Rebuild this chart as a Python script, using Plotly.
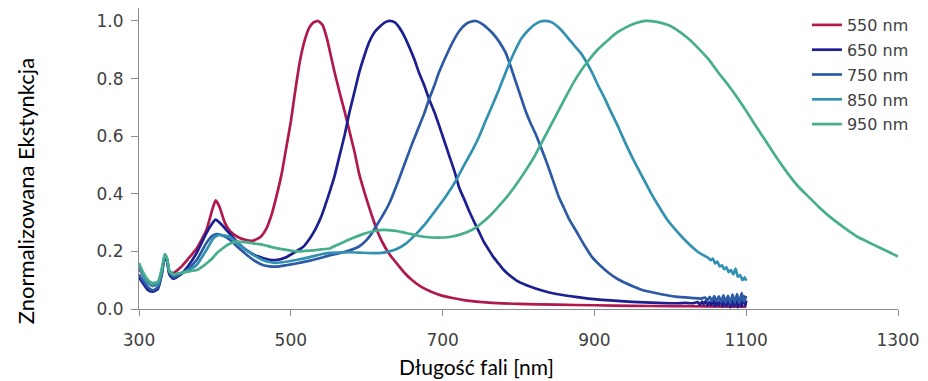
import plotly.graph_objects as go

# ---------------- data ----------------
series_names = ["550 nm", "650 nm", "750 nm", "850 nm", "950 nm"]

wl_550 = [300, 305, 312, 318, 325, 330, 334, 337, 340, 345, 355, 365, 376, 389, 396, 401, 406, 413, 420, 430,
          440, 450, 460, 468, 475, 481, 488, 494, 500, 506, 512, 518, 524, 530, 536, 542, 548, 551, 557, 564,
          571, 577, 584, 590, 600, 608, 614, 621, 630, 639, 650, 660, 672, 685, 696, 713, 730, 761, 800, 850,
          900, 950, 1000, 1050, 1100]
ext_550 = [0.14, 0.12, 0.09, 0.08, 0.09, 0.13, 0.185, 0.17, 0.13, 0.125, 0.145, 0.175, 0.21, 0.275, 0.34, 0.377, 0.355, 0.30, 0.27, 0.25,
           0.24, 0.237, 0.25, 0.28, 0.33, 0.39, 0.47, 0.56, 0.65, 0.76, 0.86, 0.93, 0.975, 0.995, 1.0, 0.985, 0.935, 0.90, 0.83, 0.755,
           0.685, 0.62, 0.545, 0.47, 0.38, 0.315, 0.27, 0.23, 0.19, 0.16, 0.125, 0.10, 0.077, 0.06, 0.049, 0.038, 0.030, 0.022, 0.018, 0.015,
           0.013, 0.011, 0.010, 0.009, 0.008]

wl_650 = [300, 305, 312, 318, 325, 330, 334, 337, 340, 345, 355, 365, 376, 389, 396, 401, 408, 420, 430, 441,
          452, 463, 472, 481, 494, 507, 516, 525, 533, 540, 546, 551, 558, 564, 571, 577, 584, 590, 597, 603,
          610, 617, 624, 630, 637, 643, 650, 656, 663, 669, 676, 682, 689, 695, 702, 709, 716, 722, 729, 735,
          742, 748, 754, 761, 767, 774, 780, 787, 800, 815, 831, 850, 875, 900, 950, 1000, 1010, 1020, 1030,
          1036, 1039, 1042, 1044, 1047, 1049, 1052, 1054, 1057, 1059, 1062, 1064, 1067, 1069, 1072, 1074, 1077,
          1079, 1082, 1084, 1087, 1089, 1092, 1094, 1097, 1099, 1100]
ext_650 = [0.11, 0.09, 0.065, 0.06, 0.07, 0.12, 0.18, 0.165, 0.12, 0.105, 0.12, 0.15, 0.195, 0.264, 0.295, 0.31, 0.295, 0.26, 0.23, 0.205,
           0.188, 0.177, 0.171, 0.17, 0.18, 0.20, 0.215, 0.245, 0.28, 0.32, 0.365, 0.405, 0.465, 0.53, 0.605, 0.68, 0.755, 0.82, 0.88, 0.925,
           0.96, 0.98, 0.995, 1.0, 0.995, 0.977, 0.945, 0.91, 0.865, 0.82, 0.775, 0.73, 0.685, 0.64, 0.585, 0.53, 0.475, 0.42, 0.378, 0.34,
           0.30, 0.268, 0.235, 0.205, 0.18, 0.157, 0.137, 0.12, 0.095, 0.078, 0.064, 0.052, 0.042, 0.034, 0.025, 0.020, 0.020, 0.021, 0.020,
           0.024, 0.015, 0.026, 0.016, 0.028, 0.012, 0.025, 0.014, 0.030, 0.010, 0.027, 0.012, 0.033, 0.008, 0.030, 0.010, 0.035,
           0.006, 0.030, 0.009, 0.038, 0.006, 0.034, 0.008, 0.045, 0.010, 0.030]

wl_750 = [300, 305, 312, 318, 325, 330, 334, 337, 340, 345, 355, 365, 376, 389, 397, 403, 410, 420, 430, 441,
          452, 463, 472, 481, 494, 507, 525, 540, 551, 564, 577, 590, 600, 606, 612, 620, 630, 641, 652, 660,
          669, 676, 682, 689, 695, 704, 713, 722, 731, 738, 744, 752, 759, 765, 774, 783, 788, 795, 802, 809,
          816, 823, 829, 837, 845, 853, 860, 867, 875, 886, 897, 908, 919, 930, 941, 952, 963, 985, 1007, 1030,
          1040, 1046, 1049, 1052, 1055, 1058, 1061, 1064, 1067, 1070, 1073, 1076, 1079, 1082, 1085, 1088, 1091,
          1094, 1097, 1100]
ext_750 = [0.12, 0.10, 0.075, 0.065, 0.075, 0.125, 0.185, 0.17, 0.125, 0.11, 0.12, 0.14, 0.17, 0.23, 0.255, 0.26, 0.255, 0.24, 0.215, 0.19,
           0.168, 0.153, 0.148, 0.147, 0.152, 0.158, 0.168, 0.178, 0.186, 0.194, 0.203, 0.217, 0.24, 0.26, 0.286, 0.32, 0.368, 0.44, 0.518, 0.575,
           0.634, 0.68, 0.727, 0.775, 0.82, 0.875, 0.925, 0.965, 0.99, 0.998, 1.0, 0.99, 0.975, 0.96, 0.93, 0.89, 0.855, 0.80, 0.745, 0.69,
           0.645, 0.605, 0.565, 0.51, 0.45, 0.39, 0.35, 0.31, 0.275, 0.225, 0.18, 0.15, 0.125, 0.105, 0.09, 0.077, 0.066, 0.053, 0.043, 0.038,
           0.036, 0.040, 0.030, 0.042, 0.028, 0.045, 0.026, 0.044, 0.024, 0.047, 0.022, 0.046, 0.020, 0.050, 0.022, 0.052, 0.020,
           0.055, 0.025, 0.045]

wl_850 = [300, 305, 312, 318, 325, 330, 334, 337, 340, 345, 355, 365, 376, 390, 398, 405, 413, 420, 430, 441,
          452, 463, 472, 481, 494, 507, 525, 540, 551, 564, 577, 590, 608, 620, 630, 641, 652, 665, 678, 690,
          704, 717, 728, 739, 748, 757, 766, 774, 781, 788, 796, 804, 812, 820, 828, 836, 844, 853, 864, 875,
          883, 890, 898, 906, 913, 919, 930, 941, 952, 963, 974, 985, 996, 1007, 1018, 1028, 1037, 1050,
          1053, 1056, 1059, 1062, 1065, 1068, 1071, 1074, 1077, 1080, 1083, 1086, 1089, 1092, 1095, 1098, 1100]
ext_850 = [0.15, 0.12, 0.09, 0.08, 0.085, 0.13, 0.19, 0.175, 0.13, 0.12, 0.125, 0.135, 0.153, 0.21, 0.245, 0.257, 0.255, 0.25, 0.228, 0.205,
           0.185, 0.17, 0.163, 0.16, 0.164, 0.17, 0.18, 0.19, 0.195, 0.196, 0.197, 0.196, 0.194, 0.195, 0.20, 0.21, 0.228, 0.26, 0.298, 0.34,
           0.39, 0.443, 0.498, 0.55, 0.598, 0.655, 0.71, 0.76, 0.807, 0.853, 0.90, 0.94, 0.965, 0.985, 0.997, 1.0, 0.995, 0.977, 0.945, 0.91,
           0.885, 0.855, 0.815, 0.77, 0.735, 0.70, 0.64, 0.575, 0.515, 0.46, 0.405, 0.356, 0.31, 0.275, 0.243, 0.217, 0.197, 0.177,
           0.170, 0.175, 0.158, 0.165, 0.148, 0.152, 0.138, 0.145, 0.128, 0.135, 0.120, 0.140, 0.112, 0.118, 0.100, 0.110, 0.098]

wl_950 = [300, 305, 312, 318, 325, 330, 334, 337, 340, 345, 355, 365, 376, 385, 392, 397, 403, 410, 418, 428,
          440, 452, 463, 475, 490, 507, 525, 540, 551, 564, 580, 595, 608, 621, 635, 652, 665, 678, 693, 709,
          725, 739, 750, 761, 775, 788, 799, 810, 820, 829, 841, 853, 864, 875, 883, 890, 904, 919, 930, 941,
          954, 967, 982, 998, 1011, 1024, 1037, 1050, 1063, 1077, 1090, 1103, 1116, 1129, 1142, 1155, 1168, 1182,
          1195, 1208, 1221, 1234, 1247, 1261, 1274, 1288, 1300]
ext_950 = [0.16, 0.13, 0.10, 0.09, 0.095, 0.14, 0.19, 0.175, 0.135, 0.12, 0.125, 0.13, 0.135, 0.15, 0.165, 0.177, 0.195, 0.21, 0.225, 0.234,
           0.232, 0.227, 0.223, 0.215, 0.207, 0.20, 0.203, 0.207, 0.21, 0.226, 0.245, 0.26, 0.27, 0.275, 0.272, 0.264, 0.256, 0.25, 0.248, 0.25,
           0.26, 0.275, 0.295, 0.32, 0.36, 0.40, 0.44, 0.483, 0.525, 0.57, 0.63, 0.69, 0.745, 0.797, 0.83, 0.855, 0.90, 0.936, 0.96, 0.977,
           0.992, 1.0, 0.997, 0.985, 0.965, 0.938, 0.905, 0.868, 0.822, 0.775, 0.727, 0.675, 0.622, 0.57, 0.518, 0.47, 0.427, 0.39,
           0.356, 0.325, 0.298, 0.273, 0.25, 0.232, 0.215, 0.198, 0.182]

x_tick_vals = [300, 500, 700, 900, 1100, 1300]
y_tick_vals = [0.0, 0.2, 0.4, 0.6, 0.8, 1.0]

x_title = "Długość fali [nm]"
y_title = "Znormalizowana Ekstynkcja"

# ---------------- styling ----------------
colors = ["#B0194F", "#1B1F8F", "#2C5AA5", "#3191B0", "#47AF8E"]
wls = [wl_550, wl_650, wl_750, wl_850, wl_950]
exts = [ext_550, ext_650, ext_750, ext_850, ext_950]

fig = go.Figure()
for name, wl, ext, col in zip(series_names, wls, exts, colors):
    fig.add_trace(go.Scatter(
        x=wl, y=ext, mode="lines", name=name, legendgroup=name,
        line=dict(color=col, width=2.7, shape="spline", smoothing=0.5),
    ))

W, H = 928, 381
ml, mr, mt, mb = 139, 28, 8, 72

axis_col = "#8c8c8c"
tick_font = dict(family="DejaVu Sans", size=17, color="#404040")

fig.update_layout(
    width=W, height=H,
    margin=dict(l=ml, r=mr, t=mt, b=mb, pad=0),
    paper_bgcolor="white", plot_bgcolor="white",
    showlegend=True,
    legend=dict(
        x=0.880, y=1.0, xanchor="left", yanchor="top",
        font=dict(family="DejaVu Sans", size=16, color="#404040"),
        bgcolor="rgba(0,0,0,0)", borderwidth=0,
        tracegroupgap=1, itemwidth=30,
    ),
    xaxis=dict(
        range=[300, 1300], tickmode="array", tickvals=x_tick_vals,
        showgrid=False, zeroline=False,
        showline=True, linecolor=axis_col, linewidth=1,
        ticks="outside", ticklen=6, tickcolor=axis_col, tickwidth=1,
        tickfont=tick_font, ticklabelstandoff=10,
    ),
    yaxis=dict(
        range=[0, 1.045], tickmode="array", tickvals=y_tick_vals, tickformat=".1f",
        showgrid=False, zeroline=False,
        showline=True, linecolor=axis_col, linewidth=1,
        ticks="outside", ticklen=7, tickcolor=axis_col, tickwidth=1,
        tickfont=tick_font, ticklabelstandoff=4,
    ),
    annotations=[
        dict(text=x_title, xref="paper", yref="paper", x=0.445, y=-0.19,
             xanchor="center", yanchor="middle", showarrow=False,
             font=dict(family="Lato", size=21, color="#000000")),
        dict(text=y_title, xref="paper", yref="paper", x=-0.15, y=0.392,
             xanchor="center", yanchor="middle", showarrow=False, textangle=-90,
             font=dict(family="Lato", size=22, color="#000000")),
    ],
)

fig.write_html(
    "out.html",
    config={"displayModeBar": False},
    post_script="document.body.style.margin='0px';document.body.style.overflow='hidden';",
)
